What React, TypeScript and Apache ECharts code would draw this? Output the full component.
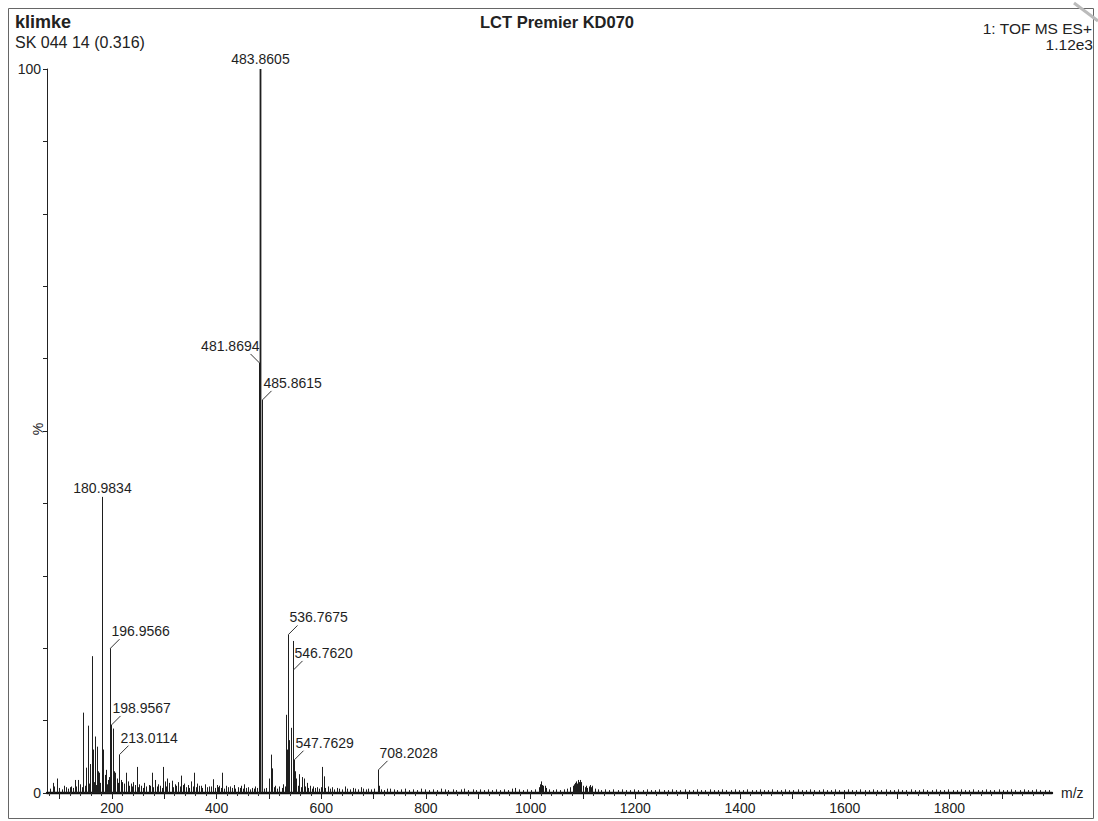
import React, { useEffect, useRef } from "react";
import * as echarts from "echarts";

const FONT = '"Liberation Sans", Arial, Helvetica, sans-serif';
const INK = "#1e1e1e";

// Axis ticks and labels (m/z)
const xLabelValues = [200, 400, 600, 800, 1000, 1200, 1400, 1600, 1800];
const xMajorTicks = [100, 200, 300, 400, 500, 600, 700, 800, 900, 1000, 1100, 1200, 1300, 1400, 1500, 1600, 1700, 1800, 1900];
const yLabelValues = [0, 100];

// Main peaks [m/z, relative intensity %]
const mainPeaks: number[][] = [
  [87, 1.4], [96, 2.0], [112, 0.8], [122, 0.9], [129.5, 1.8], [136, 1.8], [145, 11.1], [150, 3.5],
  [154, 9.3], [158, 4.0], [161.4, 18.9], [163, 6.0], [167.7, 7.8], [171, 6.4], [173, 3.0], [176, 2.8],
  [180.98, 40.9], [183.6, 6.0], [186, 2.5], [188, 3.2], [192, 1.8], [194, 2.2], [196.96, 20.0],
  [198.96, 9.4], [201.5, 8.9], [204, 3.0], [206, 2.8], [209, 2.0], [213.01, 5.3], [214.5, 4.8],
  [217, 1.8], [220, 1.5], [227, 2.8], [230, 1.6], [236, 1.3], [241, 1.5], [247, 3.6], [252, 1.2],
  [262, 1.4], [270, 1.1], [276, 2.8], [283, 1.8], [289, 1.2], [297, 3.6], [301, 1.6], [306, 2.0],
  [310, 1.4], [314, 1.7], [320, 1.2], [327, 1.5], [332, 2.4], [338, 1.3], [345, 1.1], [351, 1.6],
  [357, 2.8], [363, 1.3], [370, 1.0], [378, 1.2], [386, 0.9], [394, 1.9], [400, 1.1], [405, 1.0],
  [411, 2.8], [418, 1.0], [425, 0.9], [433, 1.1], [441, 0.8], [447, 1.0], [453, 1.2], [460, 0.8],
  [468, 0.7], [474, 0.9], [481.87, 59.4], [483.86, 100], [485.86, 54.3], [487.5, 8.0], [501, 2.0],
  [503.4, 5.3], [506.5, 3.4], [512, 1.0], [520, 0.9], [527, 1.2], [532.6, 10.8], [534.7, 6.0],
  [536.77, 21.9], [539, 7.3], [542, 9.0], [545.6, 21.0], [546.76, 17.0], [547.76, 4.6], [549, 3.0],
  [552, 2.0], [558, 2.6], [563, 2.2], [567, 2.0], [572, 1.4], [578, 1.0], [585, 0.9], [592, 0.8],
  [602, 3.6], [605, 2.3], [612, 0.9], [620, 0.8], [630, 0.7], [645, 0.9], [660, 0.7], [675, 0.8],
  [690, 0.6], [708.2, 3.2], [710, 1.0], [725, 0.6],
];

// Baseline noise [m/z, %]
const noiseLow: number[][] = [
  [82, 0.6], [90, 0.9], [99, 0.7], [104, 0.5], [108, 1.0], [116, 0.6], [119, 0.8], [125, 0.7],
  [132, 0.9], [139, 1.2], [142, 0.8], [148, 1.0], [156, 1.3], [165, 1.5], [169, 1.1], [178, 1.4],
  [190, 1.2], [199, 1.6], [203, 1.2], [211, 1.4], [219, 1.1], [223, 1.3], [233, 1.0], [238, 0.9],
  [244, 1.1], [249, 0.8], [255, 1.0], [259, 0.7], [265, 0.9], [273, 1.0], [279, 0.8], [286, 0.9],
  [292, 1.0], [295, 0.7], [303, 0.9], [317, 0.8], [323, 1.0], [330, 0.9], [335, 1.1], [341, 0.8],
  [348, 0.7], [354, 0.9], [360, 0.8], [366, 1.0], [373, 0.7], [381, 0.8], [389, 0.9], [397, 0.7],
  [402, 0.8], [408, 0.7], [414, 0.6], [421, 0.8], [429, 0.7], [436, 0.6], [444, 0.7], [450, 0.6],
  [456, 0.7], [463, 0.5], [471, 0.6], [477, 0.7], [490, 0.6], [495, 0.7], [509, 0.8], [516, 0.6],
  [524, 0.7], [530, 0.9], [555, 1.0], [561, 0.8], [569, 0.9], [575, 0.7], [582, 0.6], [588, 0.7],
  [596, 0.6], [599, 0.8], [608, 0.7], [616, 0.6], [624, 0.5], [634, 0.6], [640, 0.5], [650, 0.6],
  [655, 0.5], [665, 0.6], [670, 0.5], [680, 0.6], [685, 0.5], [695, 0.5], [700, 0.6],
];

const noiseHigh: number[][] = [
  [715, 0.5], [720, 0.4], [731, 0.6], [738, 0.5], [745, 0.4], [752, 0.5], [760, 0.6], [767, 0.4],
  [775, 0.5], [782, 0.4], [790, 0.6], [798, 0.5], [806, 0.4], [813, 0.5], [821, 0.4], [829, 0.6],
  [836, 0.5], [843, 0.4], [851, 0.5], [858, 0.4], [866, 0.5], [873, 0.6], [881, 0.4], [889, 0.5],
  [896, 0.4], [904, 0.5], [911, 0.4], [919, 0.5], [927, 0.4], [934, 0.5], [942, 0.4], [949, 0.5],
  [957, 0.4], [964, 0.6], [970, 0.7], [978, 0.5], [986, 0.4], [993, 0.5], [1001, 0.4], [1008, 0.5],
  [1015, 0.8], [1017, 1.2], [1019, 1.6], [1021, 1.1], [1024, 1.0], [1027, 1.0], [1030, 0.7],
  [1035, 0.5], [1042, 0.4], [1049, 0.5], [1056, 0.4], [1063, 0.5], [1070, 0.6], [1076, 0.8],
  [1080, 1.0], [1083, 1.2], [1085, 1.4], [1087, 1.6], [1089, 1.3], [1091, 1.8], [1093, 1.5],
  [1094, 1.8], [1096, 1.4], [1097, 1.5], [1100, 1.0], [1103, 0.8], [1105, 1.0], [1108, 0.7],
  [1111, 0.9], [1113, 1.1], [1116, 0.8], [1118, 1.0], [1122, 0.6], [1128, 0.5], [1135, 0.4],
  [1142, 0.5], [1150, 0.4], [1158, 0.5], [1166, 0.4], [1174, 0.5], [1182, 0.4], [1190, 0.4],
  [1198, 0.5], [1206, 0.4], [1214, 0.4], [1222, 0.5], [1230, 0.4], [1238, 0.4], [1246, 0.5],
  [1254, 0.4], [1262, 0.4], [1270, 0.5], [1278, 0.4], [1286, 0.4], [1294, 0.5], [1302, 0.4],
  [1310, 0.4], [1318, 0.5], [1326, 0.4], [1334, 0.4], [1342, 0.5], [1350, 0.4], [1358, 0.4],
  [1366, 0.5], [1374, 0.4], [1382, 0.4], [1390, 0.5], [1398, 0.4], [1406, 0.4], [1414, 0.5],
  [1422, 0.4], [1430, 0.4], [1438, 0.5], [1446, 0.4], [1454, 0.4], [1462, 0.5], [1470, 0.4],
  [1478, 0.4], [1486, 0.5], [1494, 0.4], [1502, 0.4], [1510, 0.5], [1518, 0.4], [1526, 0.4],
  [1534, 0.5], [1542, 0.4], [1550, 0.4], [1558, 0.5], [1566, 0.4], [1574, 0.4], [1582, 0.5],
  [1590, 0.4], [1598, 0.4], [1606, 0.5], [1614, 0.4], [1622, 0.4], [1630, 0.5], [1638, 0.4],
  [1646, 0.4], [1654, 0.5], [1662, 0.4], [1670, 0.4], [1678, 0.5], [1686, 0.4], [1694, 0.4],
  [1702, 0.5], [1710, 0.4], [1718, 0.4], [1726, 0.5], [1734, 0.4], [1742, 0.4], [1750, 0.5],
  [1758, 0.4], [1766, 0.4], [1774, 0.5], [1782, 0.4], [1790, 0.4], [1798, 0.5], [1806, 0.4],
  [1814, 0.4], [1822, 0.5], [1830, 0.4], [1838, 0.4], [1846, 0.5], [1854, 0.4], [1862, 0.4],
  [1870, 0.5], [1878, 0.4], [1886, 0.4], [1894, 0.5], [1902, 0.4], [1910, 0.4], [1918, 0.5],
  [1926, 0.4], [1934, 0.4], [1942, 0.5], [1950, 0.4], [1958, 0.4], [1966, 0.5], [1974, 0.4],
  [1982, 0.4], [1990, 0.4],
];

// Annotated peaks: m/z, intensity, side (0 = above, 1 = right, 2 = left)
const annotMz = [483.86, 481.87, 485.86, 180.98, 196.96, 198.96, 213.01, 536.77, 546.76, 547.76, 708.2];
const annotY = [100, 59.4, 54.3, 40.9, 20.0, 9.4, 5.3, 21.9, 17.0, 4.6, 3.2];
const annotSide = [0, 2, 1, 0, 1, 1, 1, 1, 1, 1, 1];
const annotText = [
  "483.8605", "481.8694", "485.8615", "180.9834", "196.9566", "198.9567",
  "213.0114", "536.7675", "546.7620", "547.7629", "708.2028",
];

export default function App() {
  const ref = useRef<HTMLDivElement>(null);

  useEffect(() => {
    if (!ref.current) return;
    const chart = echarts.init(ref.current, undefined, { renderer: "svg" });

    const minorTicks: number[] = [];
    for (let v = 80; v <= 1980; v += 20) if (v % 100 !== 0) minorTicks.push(v);

    const sticks = [...noiseLow, ...noiseHigh, ...mainPeaks];
    const annData = annotMz.map((m, i) => [m, annotY[i], annotSide[i]]);

    const option: any = {
      animation: false,
      backgroundColor: "#ffffff",
      textStyle: { fontFamily: FONT },
      grid: { left: 47, right: 46, top: 69, bottom: 28, containLabel: false, outerBoundsMode: "none" },
      xAxis: [
        {
          type: "value",
          min: 76,
          max: 1996,
          position: "bottom",
          axisLine: { onZero: false, lineStyle: { color: "#111", width: 2.4 } },
          axisTick: { show: true, customValues: xMajorTicks, length: 6, lineStyle: { color: "#222", width: 1 } },
          axisLabel: {
            customValues: xLabelValues,
            fontSize: 14,
            color: "#222",
            margin: 8,
            fontFamily: FONT,
            formatter: (v: number) => String(v),
          },
          splitLine: { show: false },
          name: "m/z",
          nameLocation: "end",
          nameGap: 9,
          nameTextStyle: { fontSize: 14, color: "#222", fontFamily: FONT },
        },
        {
          type: "value",
          min: 76,
          max: 1996,
          position: "bottom",
          axisLine: { show: false, onZero: false },
          axisTick: { show: true, customValues: minorTicks, length: 3, lineStyle: { color: "#333", width: 1 } },
          axisLabel: { show: false },
          splitLine: { show: false },
        },
      ],
      yAxis: {
        type: "value",
        min: 0,
        max: 100,
        interval: 10,
        axisLine: { show: true, lineStyle: { color: "#222", width: 1 } },
        axisTick: { show: true, length: 4, lineStyle: { color: "#222" } },
        axisLabel: {
          fontSize: 14,
          color: "#222",
          margin: 6,
          fontFamily: FONT,
          formatter: (v: number) => (yLabelValues.indexOf(v) >= 0 ? String(v) : ""),
        },
        splitLine: { show: false },
      },
      series: [
        {
          type: "custom",
          xAxisIndex: 0,
          yAxisIndex: 0,
          encode: { x: 0, y: 1 },
          data: sticks,
          clip: true,
          renderItem: (params: any, api: any) => {
            const x = api.value(0);
            const y = api.value(1);
            const top = api.coord([x, y]);
            const base = api.coord([x, 0]);
            const px = Math.round(top[0]) + 0.5;
            const big = y > 90;
            return {
              type: "line",
              shape: { x1: px, y1: base[1], x2: px, y2: top[1] },
              style: { stroke: INK, lineWidth: big ? 1.8 : 1 },
            };
          },
        },
        {
          type: "custom",
          xAxisIndex: 0,
          yAxisIndex: 0,
          encode: { x: 0, y: 1 },
          data: annData,
          clip: false,
          z: 5,
          renderItem: (params: any, api: any) => {
            const x = api.value(0);
            const y = api.value(1);
            const side = api.value(2);
            const p = api.coord([x, y]);
            const px = Math.round(p[0]) + 0.5;
            const text = annotText[params.dataIndex];
            const font = `14px ${FONT}`;
            if (side === 0) {
              return {
                type: "text",
                x: px,
                y: p[1] - (y > 90 ? 10 : 9),
                style: { text, font, fill: INK, align: "center", verticalAlign: "middle" },
              };
            }
            const dir = side === 1 ? 1 : -1;
            return {
              type: "group",
              children: [
                {
                  type: "line",
                  shape: { x1: px, y1: p[1], x2: px + dir * 9, y2: p[1] - 9 },
                  style: { stroke: "#333", lineWidth: 1 },
                },
                {
                  type: "text",
                  x: side === 1 ? px + 1 : px,
                  y: p[1] - 17,
                  style: {
                    text,
                    font,
                    fill: INK,
                    align: side === 1 ? "left" : "right",
                    verticalAlign: "middle",
                  },
                },
              ],
            };
          },
        },
      ],
      graphic: [
        {
          type: "rect",
          shape: { x: 8.5, y: 8.5, width: 1085, height: 810 },
          style: { fill: "none", stroke: "#666", lineWidth: 1 },
          silent: true,
        },
        {
          type: "line",
          shape: { x1: 1074, y1: 3, x2: 1098, y2: 21 },
          style: { stroke: "#bbb", lineWidth: 3 },
          silent: true,
        },
        {
          type: "text",
          x: 38,
          y: 429,
          rotation: Math.PI / 2,
          style: { text: "%", font: `14px ${FONT}`, fill: "#222", align: "center", verticalAlign: "middle" },
        },
        {
          type: "text",
          x: 15,
          y: 22,
          style: { text: "klimke", font: `bold 18px ${FONT}`, fill: "#222", verticalAlign: "middle" },
        },
        {
          type: "text",
          x: 15,
          y: 42,
          style: { text: "SK 044 14 (0.316)", font: `16px ${FONT}`, fill: "#222", verticalAlign: "middle" },
        },
        {
          type: "text",
          x: 557,
          y: 22,
          style: {
            text: "LCT Premier KD070",
            font: `bold 16.5px ${FONT}`,
            fill: "#222",
            align: "center",
            verticalAlign: "middle",
          },
        },
        {
          type: "text",
          x: 1092,
          y: 28,
          style: { text: "1: TOF MS ES+", font: `15.5px ${FONT}`, fill: "#222", align: "right", verticalAlign: "middle" },
        },
        {
          type: "text",
          x: 1093,
          y: 44,
          style: { text: "1.12e3", font: `15.5px ${FONT}`, fill: "#222", align: "right", verticalAlign: "middle" },
        },
      ],
    };

    chart.setOption(option);
    return () => chart.dispose();
  }, []);

  return (
    <div
      ref={ref}
      style={{ position: "absolute", left: 0, top: 0, width: 1098, height: 821, background: "#fff" }}
    />
  );
}
